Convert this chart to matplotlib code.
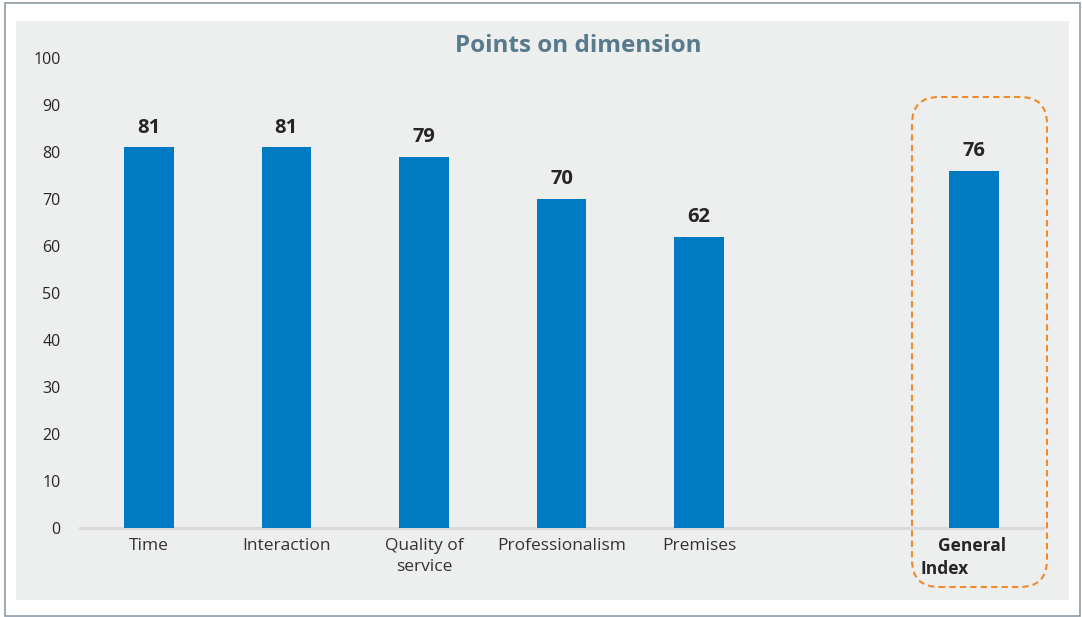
import matplotlib
matplotlib.use("Agg")
import matplotlib.pyplot as plt
from matplotlib.patches import Rectangle, FancyBboxPatch
from matplotlib.transforms import offset_copy

# Scores per dimension
categories = ["Time", "Interaction", "Quality of\nservice", "Professionalism", "Premises", "General\nIndex"]
values = [81, 81, 79, 70, 62, 76]
positions = [0, 1, 2, 3, 4, 6]
y_ticks = [0, 10, 20, 30, 40, 50, 60, 70, 80, 90, 100]

W, H = 1082, 617
plt.rcParams["font.family"] = ["Open Sans", "DejaVu Sans"]

fig = plt.figure(figsize=(W / 100, H / 100), dpi=100)
fig.patch.set_facecolor("white")

# outer frame and grey panel
fig.add_artist(Rectangle((5 / W, 1 / H), 1075 / W, 613 / H, transform=fig.transFigure,
                         facecolor="none", edgecolor="#8d9ba7", lw=1.2))
fig.add_artist(Rectangle((16 / W, (H - 600) / H), 1053 / W, 579 / H, transform=fig.transFigure,
                         facecolor="#edeeee", edgecolor="none", zorder=0))

ax = fig.add_axes([80 / W, (H - 528) / H, 963 / W, 470 / H])
ax.set_facecolor("none")

ax.bar(positions, values, width=0.36, color="#007ac2", zorder=3)
for x, v in zip(positions, values):
    ax.annotate(f"{v}", (x, v), xytext=(0, 7), textcoords="offset points",
                ha="center", va="bottom", fontsize=14.5, fontweight="bold", color="#262626")

ax.set_xlim(-0.5, 6.5)
ax.set_ylim(0, 100)
ax.set_yticks(y_ticks)
ax.set_yticklabels([str(t) for t in y_ticks], fontsize=11.5, color="#262626")
ax.tick_params(axis="y", length=0, pad=14)

# regular category labels on the ticks; the overall index gets its own bold label
ax.set_xticks(positions)
ax.set_xticklabels(list(categories[:-1]) + [""], fontsize=12.5, color="#333333",
                   linespacing=1.45)
ax.tick_params(axis="x", length=0, pad=7)
gen_tr = offset_copy(ax.get_xaxis_transform(), fig=fig, x=-11, y=-9, units="dots")
ax.text(positions[-1], 0, "    " + categories[-1], transform=gen_tr, ha="center", va="top",
        multialignment="left", fontsize=12.5, fontweight="bold", color="#262626",
        linespacing=1.35)

for s in ["top", "right", "left"]:
    ax.spines[s].set_visible(False)
ax.spines["bottom"].set_color("#d9d9d9")
ax.spines["bottom"].set_linewidth(2.2)

fig.text(578 / W, (H - 46) / H, "Points on dimension", ha="center", va="center",
         fontsize=17.5, fontweight="bold", color="#587a8d")

# dashed highlight around the overall index
box = FancyBboxPatch((912 / W, (H - 587) / H), 135 / W, 490 / H,
                     boxstyle="round,pad=0,rounding_size=0.025",
                     transform=fig.transFigure, facecolor="none",
                     edgecolor="#f08a2a", lw=1.5, linestyle=(0, (3, 2)),
                     mutation_aspect=W / H)
fig.add_artist(box)

fig.savefig("out.png", dpi=100)
